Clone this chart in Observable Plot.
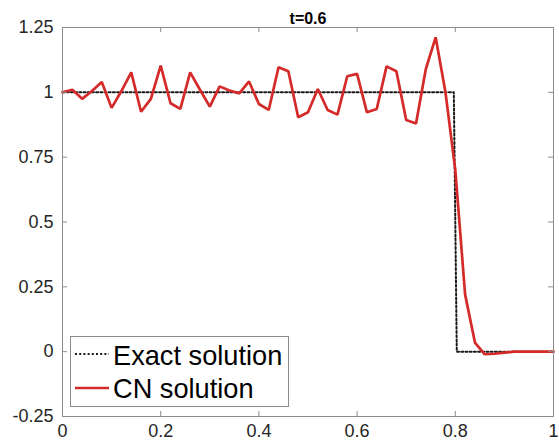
<!DOCTYPE html>
<html><head><meta charset="utf-8">
<script src="https://cdn.jsdelivr.net/npm/d3@7"></script>
<script src="https://cdn.jsdelivr.net/npm/@observablehq/plot@0.6"></script>
<style>body{margin:0;background:#fff} #chart{position:relative;width:559px;height:447px}</style>
</head><body><div id="chart"></div>
<script>
// ---- data ----
const xGrid = [0,0.02,0.04,0.06,0.08,0.1,0.12,0.14,0.16,0.18,0.2,0.22,0.24,0.26,0.28,0.3,0.32,0.34,0.36,0.38,0.4,0.42,0.44,0.46,0.48,0.5,0.52,0.54,0.56,0.58,0.6,0.62,0.64,0.66,0.68,0.7,0.72,0.74,0.76,0.78,0.8,0.82,0.84,0.86,0.88,0.9,0.92,0.94,0.96,0.98,1];
const cnValues = [1.0,1.01,0.975,1.005,1.04,0.94,1.005,1.077,0.925,0.975,1.103,0.958,0.936,1.077,1.01,0.945,1.023,1.007,0.996,1.042,0.955,0.932,1.097,1.081,0.904,0.923,1.013,0.932,0.914,1.062,1.071,0.923,0.936,1.10,1.081,0.893,0.88,1.09,1.212,1.0,0.70,0.22,0.035,-0.01,-0.008,-0.004,0,0,0,0,0];
const exactX = [0,0.797,0.803,1];
const exactY = [1,1,0,0];
const xTicks = [0,0.2,0.4,0.6,0.8,1];
const xTickLabels = ["0","0.2","0.4","0.6","0.8","1"];
const yTicks = [-0.25,0,0.25,0.5,0.75,1,1.25];
const yTickLabels = ["-0.25","0","0.25","0.5","0.75","1","1.25"];
const title = "t=0.6";
const seriesNames = ["Exact solution","CN solution"];
const seriesColors = ["#1a1a1a","#d42a2a"];

const cn = xGrid.map((x,i)=>({x, y:cnValues[i]}));
const exact = exactX.map((x,i)=>({x, y:exactY[i]}));

const W=559,H=447, mt=27, mb=31, ml=62, mr=6;
const ph = H-mt-mb, pw = W-ml-mr;
const font = "'Liberation Sans', Arial, Helvetica, sans-serif";
const axisColor = "#262626";
const frameColor = "#8c8c8c";

const plot = Plot.plot({
  width: W, height: H, marginTop: mt, marginBottom: mb, marginLeft: ml, marginRight: mr,
  style: {fontFamily: font, background: "#fff"},
  x: {domain:[0,1], label:null},
  y: {domain:[-0.25,1.25], label:null},
  marks: [
    Plot.line(exact, {x:"x", y:"y", stroke:seriesColors[0], strokeWidth:2, strokeDasharray:"2,2.2"}),
    Plot.line(cn, {x:"x", y:"y", stroke:seriesColors[1], strokeWidth:2.7, strokeLinejoin:"miter"}),
    Plot.ruleX(xTicks, {x:d=>d, insetTop: ph-5, stroke:frameColor}),
    Plot.ruleX(xTicks, {x:d=>d, insetBottom: ph-5, stroke:frameColor}),
    Plot.ruleY(yTicks, {y:d=>d, insetRight: pw-5, stroke:frameColor}),
    Plot.ruleY(yTicks, {y:d=>d, insetLeft: pw-5, stroke:frameColor}),
    Plot.frame({stroke:frameColor}),
    Plot.axisX(xTicks, {tickSize:0, tickPadding:8, fontSize:18, fill:axisColor, label:null,
      tickFormat: d => xTickLabels[xTicks.indexOf(d)]}),
    Plot.axisY(yTicks, {tickSize:0, tickPadding:9, fontSize:18, fill:axisColor, label:null,
      tickFormat: d => yTickLabels[yTicks.indexOf(d)]}),
    Plot.text([title], {frameAnchor:"top", dy:-15, fontWeight:"bold", fontSize:16, fill:"#000"})
  ]
});
document.getElementById("chart").appendChild(plot);

// legend (inside the axes, lower left)
const svg = d3.select(plot);
const lg = svg.append("g").attr("font-family", font).attr("text-anchor","start");
lg.append("rect").attr("x",70.5).attr("y",336.5).attr("width",218).attr("height",70)
  .attr("fill","#fff").attr("stroke",frameColor);
const rows = [{y:354, base:364.5, dash:"2,2.2", w:2}, {y:388, base:397.5, dash:null, w:2.7}];
rows.forEach((r,i)=>{
  const ln = lg.append("line").attr("x1",75).attr("x2",109).attr("y1",r.y).attr("y2",r.y)
    .attr("stroke",seriesColors[i]).attr("stroke-width",r.w);
  if (r.dash) ln.attr("stroke-dasharray", r.dash);
  lg.append("text").attr("x",113).attr("y",r.base).attr("font-size",27.2).attr("fill","#000")
    .attr("text-anchor","start").text(seriesNames[i]);
});
</script>
</body></html>
